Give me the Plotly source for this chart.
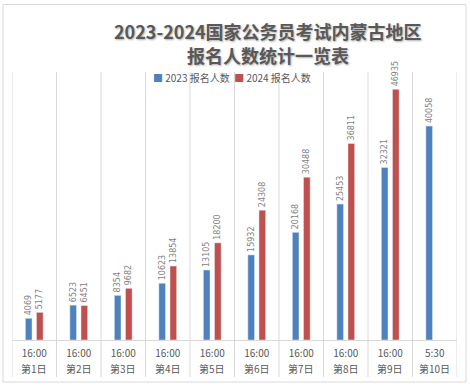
import plotly.graph_objects as go

times = ["16:00", "16:00", "16:00", "16:00", "16:00", "16:00", "16:00", "16:00", "16:00", "5:30"]
days = ["第1日", "第2日", "第3日", "第4日", "第5日", "第6日", "第7日", "第8日", "第9日", "第10日"]
v2023 = [4069, 6523, 8354, 10623, 13105, 15932, 20168, 25453, 32321, 40058]
v2024 = [5177, 6451, 9682, 13854, 18200, 24308, 30488, 36811, 46935, None]
series_names = ["2023 报名人数", "2024 报名人数"]
colors = ["#4F81BD", "#C0504D"]
title_lines = ["2023-2024国家公务员考试内蒙古地区", "报名人数统计一览表"]

W, H = 470, 386
L, R, T, B = 12, 13, 73, 46
pw, ph = W - L - R, H - T - B


def px(x):
    return (x - L) / pw


def py(y):
    return (H - B - y) / ph


cats = list(range(len(days)))
font = "Noto Sans CJK SC, DejaVu Sans, sans-serif"
lab_font = dict(family="DejaVu Sans, sans-serif", size=8, color="#7f7f7f")

fig = go.Figure()
fig.add_bar(x=cats, y=v2023, name=series_names[0], marker_color=colors[0],
            width=0.15, offset=-0.20, text=[str(v) for v in v2023],
            textposition="outside", textangle=-90, textfont=lab_font,
            constraintext="none", cliponaxis=False)
fig.add_bar(x=cats, y=v2024, name=series_names[1], marker_color=colors[1],
            width=0.15, offset=0.05, text=[("" if v is None else str(v)) for v in v2024],
            textposition="outside", textangle=-90, textfont=lab_font,
            constraintext="none", cliponaxis=False)

shapes = []
for i in range(len(days) + 1):
    shapes.append(dict(type="line", xref="x", yref="paper", x0=i - 0.5, x1=i - 0.5,
                       y0=py(377), y1=py(72), line=dict(color="#d9d9d9", width=1)))
shapes.append(dict(type="rect", xref="paper", yref="paper", x0=px(3), x1=px(466),
                   y0=py(382), y1=py(4.5), line=dict(color="#d9d9d9", width=1)))

title_font = dict(family=font, size=18, color="#595959", weight="bold",
                  shadow="1px 1px 2px #b0b0b0")
annotations = [
    dict(text=title_lines[0], xref="paper", yref="paper", x=px(268), y=py(31.5),
         xanchor="center", yanchor="middle", showarrow=False, font=title_font),
    dict(text=title_lines[1], xref="paper", yref="paper", x=px(268), y=py(55.5),
         xanchor="center", yanchor="middle", showarrow=False, font=title_font),
    dict(text=(f"<span style='color:{colors[0]}'>■</span> {series_names[0]}  "
               f"<span style='color:{colors[1]}'>■</span> {series_names[1]}"),
         xref="paper", yref="paper", x=px(232), y=py(77), xanchor="center",
         yanchor="middle", showarrow=False,
         font=dict(family=font, size=10, color="#595959"), bgcolor="rgba(0,0,0,0)"),
]
for c, d in zip(cats, days):
    annotations.append(dict(text=d, xref="x", yref="paper", x=c, y=py(368),
                            xanchor="center", yanchor="middle", showarrow=False,
                            font=dict(family=font, size=10, color="#595959")))

fig.update_layout(
    width=W, height=H, margin=dict(l=L, r=R, t=T, b=B, autoexpand=False),
    plot_bgcolor="white", paper_bgcolor="white",
    showlegend=False,
    shapes=shapes,
    annotations=annotations,
)
fig.update_xaxes(tickmode="array", tickvals=cats, ticktext=times,
                 range=[-0.5, len(days) - 0.5], showgrid=False,
                 showline=True, linecolor="#d9d9d9", ticks="", ticklabelstandoff=4,
                 tickfont=dict(family=font, size=10, color="#595959"))
fig.update_yaxes(range=[0, 50000], visible=False, showgrid=False)

fig.write_html("out.html", config={"displayModeBar": False},
               post_script="document.body.style.margin='0';")
